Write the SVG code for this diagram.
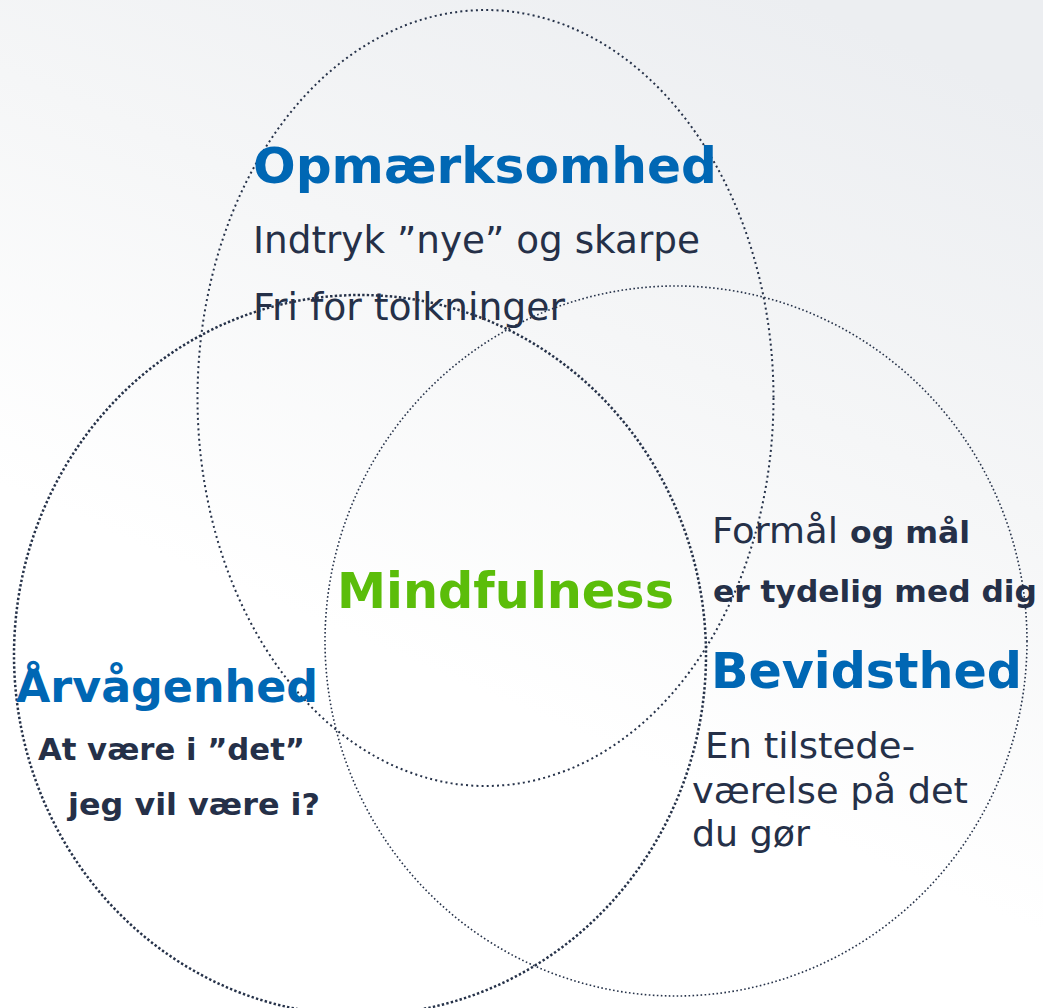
<svg xmlns="http://www.w3.org/2000/svg" width="1043" height="1008" viewBox="0 0 1043 1008">
  <defs>
    <linearGradient id="bg" x1="800" y1="0" x2="500" y2="700" gradientUnits="userSpaceOnUse">
      <stop offset="0" stop-color="#eceef1"/>
      <stop offset="0.5" stop-color="#f5f6f7"/>
      <stop offset="1" stop-color="#ffffff"/>
    </linearGradient>
    <style>
      .ring { fill: none; stroke: #263249; }
      .title { font-family: "DejaVu Sans", Verdana, sans-serif; font-weight: bold; fill: #0067b4; }
      .body { font-family: "DejaVu Sans", Verdana, sans-serif; fill: #253048; }
      .bold { font-weight: bold; }
      .green { font-family: "DejaVu Sans", Verdana, sans-serif; font-weight: bold; fill: #5bbd0a; }
    </style>
  </defs>
  <rect width="1043" height="1008" fill="url(#bg)"/>

  <g id="connectors">
    <ellipse class="ring" cx="485.5" cy="398" rx="288" ry="388" stroke-width="2" stroke-dasharray="2 3.2"/>
    <ellipse class="ring" cx="360" cy="655" rx="346" ry="360" stroke-width="2.5" stroke-dasharray="2.4 2.2"/>
    <ellipse class="ring" cx="676" cy="641" rx="351" ry="355" stroke-width="1.6" stroke-dasharray="1.6 2.4"/>
  </g>

  <g id="opmaerksomhed">
    <text class="title" x="253" y="183" font-size="50.5" textLength="464" lengthAdjust="spacingAndGlyphs">Opmærksomhed</text>
    <text class="body" x="253" y="253" font-size="37" textLength="447" lengthAdjust="spacingAndGlyphs">Indtryk ”nye” og skarpe</text>
    <text class="body" x="253" y="320" font-size="37" textLength="312" lengthAdjust="spacingAndGlyphs">Fri for tolkninger</text>
  </g>

  <g id="mindfulness">
    <text class="green" x="337" y="608" font-size="49.5" textLength="337" lengthAdjust="spacingAndGlyphs">Mindfulness</text>
  </g>

  <g id="arvagenhed">
    <text class="title" x="16" y="702" font-size="44.5" textLength="302" lengthAdjust="spacingAndGlyphs">Årvågenhed</text>
    <text class="body bold" x="38" y="760" font-size="30" textLength="267" lengthAdjust="spacingAndGlyphs">At være i ”det”</text>
    <text class="body bold" x="68" y="815" font-size="30" textLength="252" lengthAdjust="spacingAndGlyphs">jeg vil være i?</text>
  </g>

  <g id="bevidsthed">
    <text class="body" x="712" y="543" font-size="35" textLength="126" lengthAdjust="spacingAndGlyphs">Formål</text>
    <text class="body bold" x="850" y="543" font-size="30" textLength="120" lengthAdjust="spacingAndGlyphs">og mål</text>
    <text class="body bold" x="713" y="602" font-size="30" textLength="324" lengthAdjust="spacingAndGlyphs">er tydelig med dig</text>
    <text class="title" x="711" y="688" font-size="49" textLength="311" lengthAdjust="spacingAndGlyphs">Bevidsthed</text>
    <text class="body" x="705" y="758" font-size="35" textLength="210" lengthAdjust="spacingAndGlyphs">En tilstede-</text>
    <text class="body" x="692" y="803" font-size="35" textLength="276" lengthAdjust="spacingAndGlyphs">værelse på det</text>
    <text class="body" x="692" y="846" font-size="35" textLength="118" lengthAdjust="spacingAndGlyphs">du gør</text>
  </g>
</svg>
